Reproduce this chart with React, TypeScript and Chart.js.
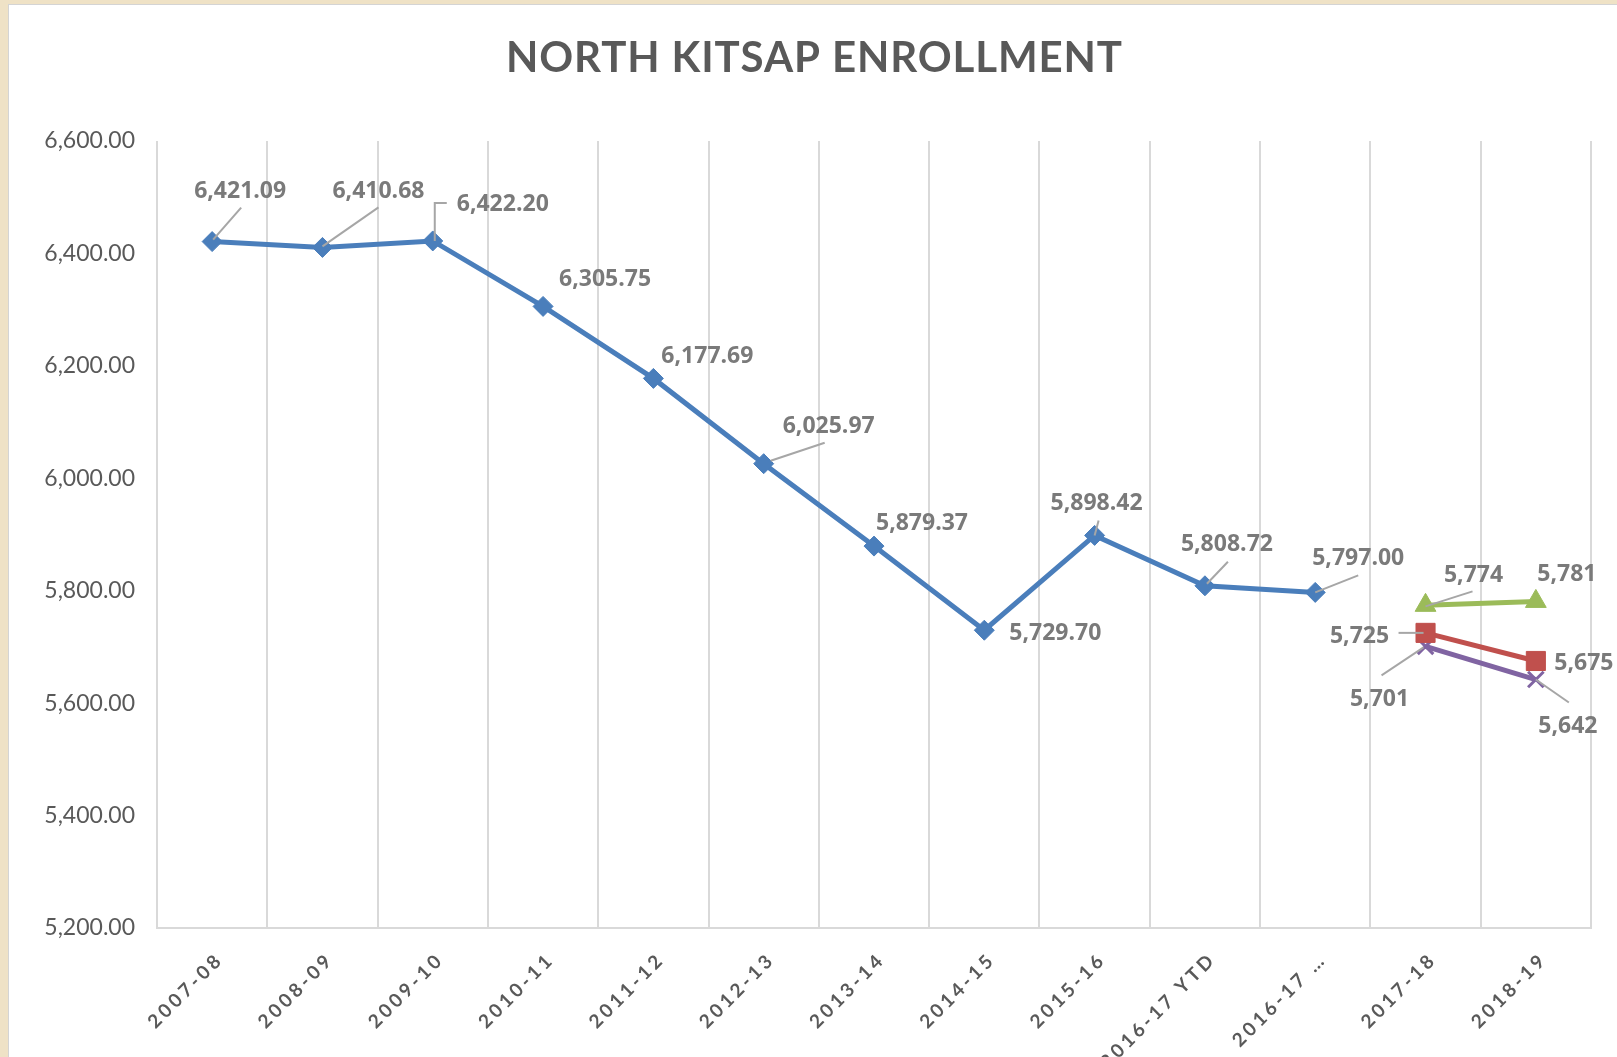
import { useEffect, useRef } from "react";
import { Chart, registerables } from "chart.js";

Chart.register(...registerables);

// ---------- data ----------
const chartTitle = "NORTH KITSAP ENROLLMENT";
const categories = [
  "2007-08",
  "2008-09",
  "2009-10",
  "2010-11",
  "2011-12",
  "2012-13",
  "2013-14",
  "2014-15",
  "2015-16",
  "2016-17 YTD",
  "2016-17 …",
  "2017-18",
  "2018-19",
];
const actualEnrollment = [
  6421.09, 6410.68, 6422.2, 6305.75, 6177.69, 6025.97, 5879.37, 5729.7, 5898.42,
  5808.72, 5797.0, null, null,
];
const projectionHigh = [null, null, null, null, null, null, null, null, null, null, null, 5774, 5781];
const projectionMid = [null, null, null, null, null, null, null, null, null, null, null, 5725, 5675];
const projectionLow = [null, null, null, null, null, null, null, null, null, null, null, 5701, 5642];
const yMin = 5200;
const yMax = 6600;
const yStep = 200;

// ---------- label placement (style: pixel offsets from each point) ----------
type LabelPos = { d: [number, number]; leader?: [number, number][] } | null;
const actualLabelPos: LabelPos[] = [
  { d: [28, -52], leader: [[1, -2], [29, -34]] },
  { d: [56, -58], leader: [[0, -1], [56, -40]] },
  { d: [70, -38], leader: [[2, 0], [2, -38], [14, -38]] },
  { d: [62, -29] },
  { d: [54, -24] },
  { d: [65, -39], leader: [[7, -3], [61, -21]] },
  { d: [48, -24] },
  { d: [71, 1] },
  { d: [2, -34], leader: [[0, 0], [4, -15]] },
  { d: [22, -43], leader: [[2, -2], [23, -24]] },
  { d: [43, -36], leader: [[0, 0], [43, -17]] },
  null,
  null,
];
const highLabelPos: LabelPos[] = [
  ...Array(11).fill(null),
  { d: [48, -32], leader: [[0, 1], [47, -14]] },
  { d: [31, -29] },
];
const midLabelPos: LabelPos[] = [
  ...Array(11).fill(null),
  { d: [-66, 2], leader: [[-27, 0], [-2, 0]] },
  { d: [48, 1] },
];
const lowLabelPos: LabelPos[] = [
  ...Array(11).fill(null),
  { d: [-46, 51], leader: [[-44, 29], [-2, 1]] },
  { d: [32, 45], leader: [[0, 0], [33, 23]] },
];

const FONT = "Lato, 'Open Sans', 'DejaVu Sans', sans-serif";
const LABEL_FONT = "'Open Sans', Lato, 'DejaVu Sans', sans-serif";

const labelPlugin = {
  id: "excelLabels",
  beforeDraw(chart: any) {
    const xs = chart.scales.x;
    if (xs && !xs.__spaced) {
      const orig = xs.drawLabels.bind(xs);
      xs.drawLabels = (area: any) => {
        const c = chart.ctx;
        c.save();
        (c as any).letterSpacing = "3.5px";
        orig(area);
        c.restore();
      };
      xs.__spaced = true;
    }
  },
  afterDatasetsDraw(chart: any) {
    const ctx = chart.ctx as CanvasRenderingContext2D;
    chart.data.datasets.forEach((ds: any, di: number) => {
      const meta = chart.getDatasetMeta(di);
      const positions: LabelPos[] = ds.labelPos;
      ds.data.forEach((v: number | null, i: number) => {
        const pos = positions[i];
        if (v == null || !pos) return;
        const el = meta.data[i];
        const px = el.x;
        const py = el.y;
        if (pos.leader) {
          ctx.save();
          ctx.strokeStyle = "#a6a6a6";
          ctx.lineWidth = 2;
          ctx.beginPath();
          pos.leader.forEach(([lx, ly], k) => {
            if (k === 0) ctx.moveTo(px + lx, py + ly);
            else ctx.lineTo(px + lx, py + ly);
          });
          ctx.stroke();
          ctx.restore();
        }
        const text = v.toLocaleString("en-US", {
          minimumFractionDigits: ds.labelDecimals,
          maximumFractionDigits: ds.labelDecimals,
        });
        ctx.save();
        ctx.font = `bold 23px ${LABEL_FONT}`;
        ctx.fillStyle = "#7a7a7a";
        ctx.textAlign = "center";
        ctx.textBaseline = "alphabetic";
        ctx.fillText(text, px + pos.d[0], py + pos.d[1] + 8.3);
        ctx.restore();
      });
    });
  },
  afterDraw(chart: any) {
    const ctx = chart.ctx as CanvasRenderingContext2D;
    ctx.save();
    ctx.font = `bold 42px ${FONT}`;
    ctx.fillStyle = "#595959";
    ctx.textBaseline = "alphabetic";
    ctx.textAlign = "left";
    const targetW = 616;
    const w0 = ctx.measureText(chartTitle).width;
    const spacing = (targetW - w0) / (chartTitle.length - 1);
    (ctx as any).letterSpacing = `${spacing}px`;
    ctx.fillText(chartTitle, 814 - targetW / 2, 72);
    ctx.restore();
  },
};

export default function App() {
  const canvasRef = useRef<HTMLCanvasElement | null>(null);

  useEffect(() => {
    document.body.style.margin = "0";
    const canvas = canvasRef.current;
    if (!canvas) return;
    const mk = (
      label: string,
      data: (number | null)[],
      color: string,
      style: string,
      radius: number,
      labelPos: LabelPos[],
      labelDecimals: number,
      markerBorder: number
    ) => ({
      label,
      data,
      borderColor: color,
      backgroundColor: color,
      borderWidth: 5,
      pointStyle: style,
      pointRadius: radius,
      pointHoverRadius: radius,
      pointBackgroundColor: color,
      pointBorderColor: color,
      pointBorderWidth: markerBorder,
      tension: 0,
      spanGaps: false,
      fill: false,
      labelPos,
      labelDecimals,
    });

    const chart = new Chart(canvas, {
      type: "line",
      data: {
        labels: categories,
        datasets: [
          mk("Enrollment", actualEnrollment, "#4a7ebb", "rectRot", 10, actualLabelPos, 2, 1),
          mk("High projection", projectionHigh, "#9bbb59", "triangle", 12, highLabelPos, 0, 1),
          mk("Mid projection", projectionMid, "#c0504d", "rect", 13.5, midLabelPos, 0, 1),
          mk("Low projection", projectionLow, "#8064a2", "crossRot", 11, lowLabelPos, 0, 3),
        ] as any,
      },
      options: {
        animation: false,
        responsive: false,
        layout: { padding: { left: 0, top: 141, right: 26, bottom: 0 } },
        plugins: {
          legend: { display: false },
          tooltip: { enabled: false },
          title: { display: false },
        },
        scales: {
          x: {
            type: "category",
            offset: true,
            grid: {
              display: true,
              offset: true,
              drawTicks: false,
              color: "#d9d9d9",
              lineWidth: 2,
            },
            border: { display: true, color: "#d9d9d9", width: 2 },
            ticks: {
              autoSkip: false,
              minRotation: 45,
              maxRotation: 45,
              padding: 20,
              labelOffset: 8,
              color: "#595959",
              font: { family: FONT, size: 19, weight: "bold" },
            },
            afterFit(scale: any) {
              scale.height = 129;
            },
          },
          y: {
            min: yMin,
            max: yMax,
            grid: { display: false, drawTicks: false },
            border: { display: false },
            ticks: {
              stepSize: yStep,
              padding: 22,
              color: "#595959",
              font: { family: FONT, size: 23 },
              callback: (v: any) =>
                Number(v).toLocaleString("en-US", {
                  minimumFractionDigits: 2,
                  maximumFractionDigits: 2,
                }),
            },
            afterFit(scale: any) {
              scale.width = 157;
            },
          },
        },
      } as any,
      plugins: [labelPlugin],
    });
    return () => chart.destroy();
  }, []);

  return (
    <div
      style={{
        position: "fixed",
        left: 0,
        top: 0,
        width: 1617,
        height: 1057,
        background: "#efe2c6",
        overflow: "hidden",
      }}
    >
      <div
        style={{
          position: "absolute",
          left: 8,
          top: 4,
          right: 0,
          bottom: 0,
          background: "#ffffff",
          borderLeft: "1px solid #d4d4d4",
          borderTop: "1px solid #d4d4d4",
        }}
      />
      <canvas
        ref={canvasRef}
        width={1617}
        height={1057}
        style={{ position: "absolute", left: 0, top: 0, display: "block" }}
      />
    </div>
  );
}
